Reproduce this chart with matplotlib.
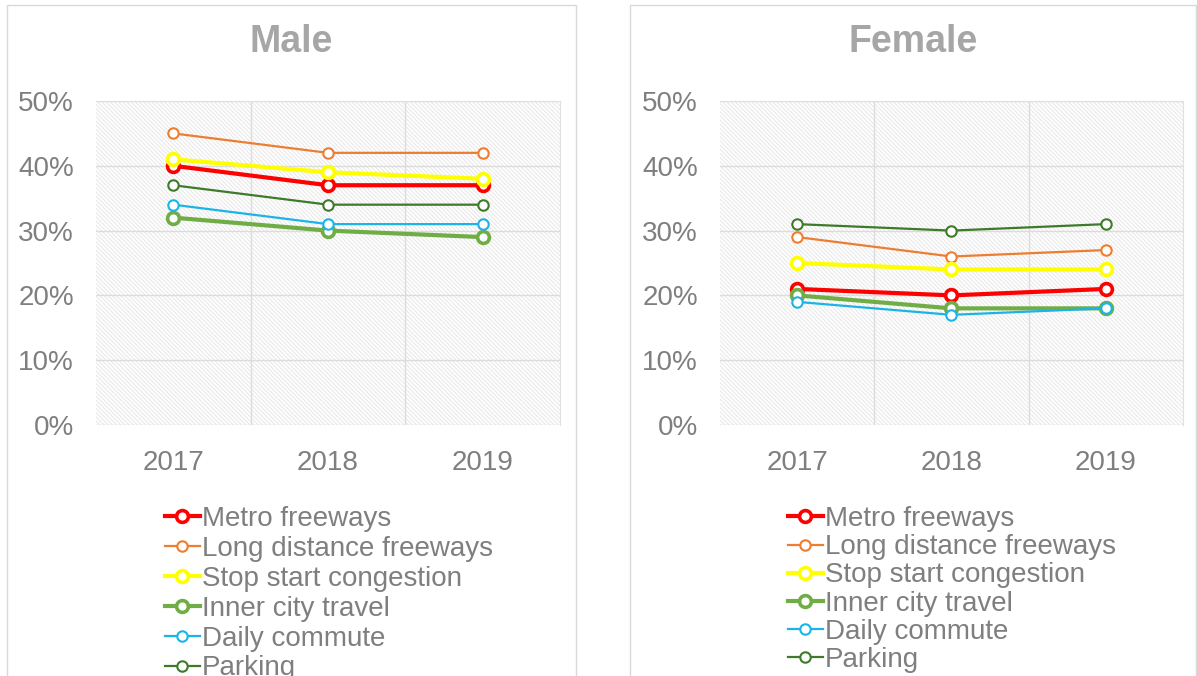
import matplotlib.pyplot as plt
from matplotlib.patches import Rectangle
from matplotlib.ticker import PercentFormatter

plt.rcParams['font.family'] = ['Liberation Sans', 'DejaVu Sans']
plt.rcParams['hatch.color'] = '#E6E6E6'
plt.rcParams['hatch.linewidth'] = 0.7

years = ['2017', '2018', '2019']
series_names = ['Metro freeways', 'Long distance freeways', 'Stop start congestion',
                'Inner city travel', 'Daily commute', 'Parking']

male_metro = [40, 37, 37]
male_long = [45, 42, 42]
male_stop = [41, 39, 38]
male_inner = [32, 30, 29]
male_daily = [34, 31, 31]
male_parking = [37, 34, 34]

female_metro = [21, 20, 21]
female_long = [29, 26, 27]
female_stop = [25, 24, 24]
female_inner = [20, 18, 18]
female_daily = [19, 17, 18]
female_parking = [31, 30, 31]

colors = ['#FF0000', '#ED7D31', '#FFFF00', '#70AD47', '#1CB4E6', '#3E7A2A']
thick = [True, False, True, True, False, False]

text_gray = '#7F7F7F'
title_gray = '#A6A6A6'

fig = plt.figure(figsize=(11.97, 6.76), dpi=100)

# panel borders (chart frames)
frames = [(7, 576), (630, 1196)]
for x0, x1 in frames:
    fig.patches.append(Rectangle((x0 / 1197, -0.05), (x1 - x0) / 1197, 1 - 5 / 676 + 0.05,
                                 transform=fig.transFigure, fill=False,
                                 edgecolor='#D9D9D9', linewidth=1.0))

panels = [
    ('Male', [male_metro, male_long, male_stop, male_inner, male_daily, male_parking],
     96, 560, 165, 0.14, frames[0]),
    ('Female', [female_metro, female_long, female_stop, female_inner, female_daily, female_parking],
     720, 1183, 788, 0.08, frames[1]),
]

for title, data, px0, px1, leg_x, lspace, frame in panels:
    ax = fig.add_axes([px0 / 1197, 1 - 425 / 676, (px1 - px0) / 1197, 324 / 676])
    ax.patch.set_facecolor('white')
    ax.patch.set_hatch('\\\\\\\\\\\\\\\\')
    ax.patch.set_edgecolor('#E6E6E6')
    ax.patch.set_linewidth(0)

    x = list(range(len(years)))
    for name, vals, c, tk in zip(series_names, data, colors, thick):
        if tk:
            ax.plot(x, vals, color=c, linewidth=3.0, marker='o', markersize=8.5,
                    markerfacecolor='white', markeredgecolor=c, markeredgewidth=2.6,
                    label=name, zorder=3)
        else:
            ax.plot(x, vals, color=c, linewidth=1.6, marker='o', markersize=7.5,
                    markerfacecolor='white', markeredgecolor=c, markeredgewidth=1.5,
                    label=name, zorder=3)

    ax.set_xlim(-0.5, 2.5)
    ax.set_ylim(0, 50)
    ax.set_xticks(x)
    ax.set_xticklabels(years)
    ax.set_xticks([0.5, 1.5], minor=True)
    ax.set_yticks(range(0, 51, 10))
    ax.yaxis.set_major_formatter(PercentFormatter(decimals=0))
    ax.grid(True, axis='y', color='#DCDCDC', linewidth=1.0, zorder=1)
    ax.grid(True, axis='x', which='minor', color='#DCDCDC', linewidth=1.0, zorder=1)
    ax.tick_params(axis='both', which='both', length=0, labelsize=20, colors=text_gray)
    ax.tick_params(axis='y', pad=16)
    ax.tick_params(axis='x', pad=18)
    for s in ax.spines.values():
        s.set_color('#E0E0E0')
        s.set_linewidth(0.8)
    ax.spines['left'].set_visible(False)
    ax.spines['bottom'].set_visible(False)

    fig.text((frame[0] + frame[1]) / 2 / 1197, 1 - 42 / 676, title, ha='center', va='center',
             fontsize=27, fontweight='bold', color=title_gray)

    leg = ax.legend(loc='upper left', bbox_to_anchor=(leg_x / 1197, 1 - 506 / 676),
                    bbox_transform=fig.transFigure, frameon=False, fontsize=20,
                    handlelength=1.25, handletextpad=0.08, labelspacing=lspace,
                    borderpad=0, borderaxespad=0)
    for t in leg.get_texts():
        t.set_color(text_gray)

fig.savefig('out.png', dpi=100)
